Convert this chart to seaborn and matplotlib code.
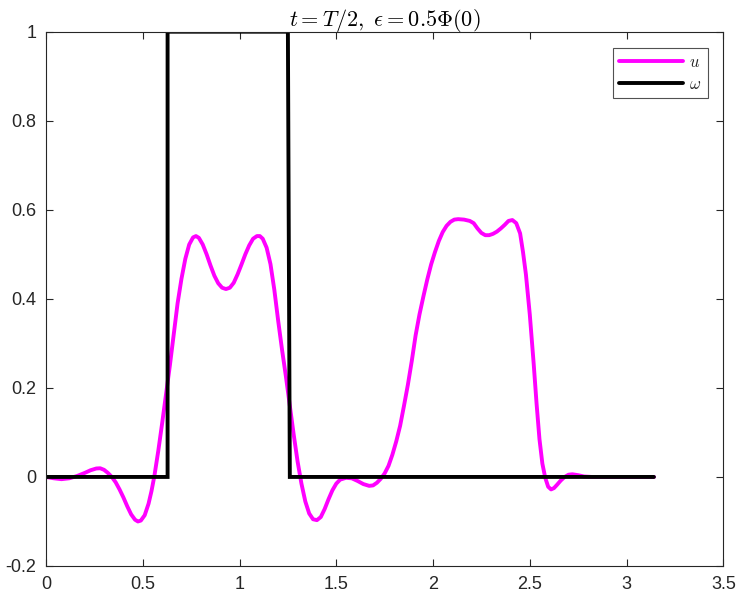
import numpy as np
import pandas as pd
import matplotlib
matplotlib.use("Agg")
import matplotlib.pyplot as plt
import seaborn as sns

# data
u_x = [0.00, 0.04, 0.08, 0.12, 0.16, 0.20, 0.23, 0.26, 0.28, 0.30, 0.32, 0.34, 0.36, 0.38,
       0.40, 0.42, 0.44, 0.46, 0.475, 0.49, 0.51, 0.53, 0.545, 0.56, 0.58, 0.60, 0.62, 0.64,
       0.66, 0.68, 0.70, 0.72, 0.74, 0.76, 0.775, 0.79, 0.81, 0.83, 0.85, 0.87, 0.89, 0.91,
       0.93, 0.95, 0.97, 0.99, 1.01, 1.03, 1.05, 1.07, 1.09, 1.105, 1.12, 1.14, 1.16, 1.18,
       1.20, 1.22, 1.24, 1.26, 1.28, 1.30, 1.32, 1.34, 1.36, 1.38, 1.40, 1.42, 1.44, 1.46,
       1.48, 1.50, 1.52, 1.55, 1.58, 1.61, 1.64, 1.67, 1.69, 1.71, 1.73, 1.75, 1.77, 1.79,
       1.81, 1.83, 1.85, 1.87, 1.89, 1.91, 1.93, 1.95, 1.97, 1.99, 2.01, 2.03, 2.05, 2.07,
       2.09, 2.11, 2.13, 2.16, 2.19, 2.21, 2.23, 2.25, 2.27, 2.29, 2.31, 2.33, 2.35, 2.37,
       2.39, 2.41, 2.43, 2.45, 2.465, 2.48, 2.50, 2.52, 2.535, 2.55, 2.565, 2.58, 2.595,
       2.61, 2.625, 2.64, 2.66, 2.68, 2.70, 2.72, 2.75, 2.78, 2.82, 3.1416]
u_y = [0.000, -0.003, -0.005, -0.003, 0.002, 0.009, 0.015, 0.019, 0.0195, 0.016, 0.009,
       0.000, -0.012, -0.028, -0.046, -0.066, -0.084, -0.096, -0.100, -0.098, -0.086,
       -0.060, -0.032, 0.002, 0.058, 0.120, 0.185, 0.250, 0.320, 0.390, 0.445, 0.490,
       0.522, 0.538, 0.541, 0.537, 0.522, 0.500, 0.475, 0.452, 0.435, 0.425, 0.422, 0.425,
       0.436, 0.455, 0.477, 0.500, 0.520, 0.535, 0.541, 0.541, 0.535, 0.515, 0.478, 0.420,
       0.350, 0.285, 0.225, 0.160, 0.095, 0.035, -0.015, -0.055, -0.082, -0.095, -0.097,
       -0.090, -0.072, -0.050, -0.030, -0.015, -0.006, -0.002, -0.003, -0.009, -0.016,
       -0.020, -0.019, -0.013, -0.004, 0.008, 0.025, 0.050, 0.080, 0.115, 0.160, 0.207,
       0.260, 0.318, 0.365, 0.405, 0.443, 0.477, 0.505, 0.530, 0.550, 0.564, 0.573, 0.578,
       0.579, 0.578, 0.575, 0.570, 0.558, 0.548, 0.543, 0.543, 0.546, 0.551, 0.558, 0.566,
       0.575, 0.577, 0.570, 0.547, 0.505, 0.455, 0.365, 0.255, 0.165, 0.085, 0.030, -0.002,
       -0.022, -0.028, -0.025, -0.018, -0.008, 0.000, 0.005, 0.006, 0.004, 0.001, 0.000,
       0.000]
w_x = [0.0, 0.6283, 0.6283, 1.2500, 1.2600, 3.1416]
w_y = [0.0, 0.0, 1.0, 1.0, 0.0, 0.0]

x_ticks = [0, 0.5, 1, 1.5, 2, 2.5, 3, 3.5]
y_ticks = [-0.2, 0, 0.2, 0.4, 0.6, 0.8, 1]
title = r"$t=T/2,\ \epsilon=0.5\Phi(0)$"

sns.set_theme(style="white")
plt.rcParams["font.family"] = ["Liberation Sans", "DejaVu Sans"]
plt.rcParams["mathtext.fontset"] = "cm"

fig = plt.figure(figsize=(7.40, 5.98), dpi=100)
ax = fig.add_axes([46/740, 32/598, (723.3-46)/740, (566-31.7)/598])

df_u = pd.DataFrame({"x": u_x, "y": u_y})
df_w = pd.DataFrame({"x": w_x, "y": w_y})
sns.lineplot(data=df_u, x="x", y="y", sort=False, estimator=None, color="#ff00ff",
             linewidth=2.8, label=r"$u$", ax=ax, solid_joinstyle="round",
             solid_capstyle="round")
sns.lineplot(data=df_w, x="x", y="y", sort=False, estimator=None, color="black",
             linewidth=2.8, label=r"$\omega$", ax=ax, solid_joinstyle="miter")

ax.set_xlim(0, 3.5)
ax.set_ylim(-0.2, 1)
ax.set_xticks(x_ticks)
ax.set_xticklabels([f"{t:g}" for t in x_ticks])
ax.set_yticks(y_ticks)
ax.set_yticklabels([f"{t:g}" for t in y_ticks])
ax.set_xlabel("")
ax.set_ylabel("")
edge = "#262626"
for s in ax.spines.values():
    s.set_visible(True)
    s.set_color(edge)
    s.set_linewidth(0.8)
ax.tick_params(direction="in", length=5, width=0.8, colors=edge, labelsize=13,
               top=True, right=True, bottom=True, left=True, pad=7)
ax.set_title(title, fontsize=16, pad=4, color="black")

leg = ax.legend(loc="upper right", bbox_to_anchor=(0.9775, 0.969), fontsize=12,
                handlelength=3.8, frameon=True, fancybox=False, borderpad=0.4,
                labelspacing=0.4, handletextpad=0.4, borderaxespad=0)
leg.get_frame().set_edgecolor(edge)
leg.get_frame().set_linewidth(0.8)

fig.savefig("out.png", dpi=100)
